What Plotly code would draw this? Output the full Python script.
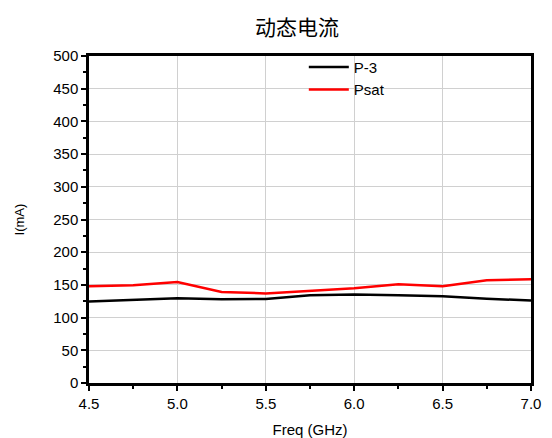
import plotly.graph_objects as go

freq = [4.5, 4.75, 5.0, 5.25, 5.5, 5.75, 6.0, 6.25, 6.5, 6.75, 7.0]
p3 = [124.5, 127, 129.5, 128, 128.5, 134, 135.5, 134, 132.5, 129, 126]
psat = [148, 149.5, 154.5, 139, 137, 141, 145, 151, 148, 157, 158.5]

FONT = "Liberation Sans, Arial, sans-serif"

fig = go.Figure()
fig.add_trace(go.Scatter(x=freq, y=p3, mode="lines", name="P-3",
                         line=dict(color="black", width=2.5)))
fig.add_trace(go.Scatter(x=freq, y=psat, mode="lines", name="Psat",
                         line=dict(color="#ff0000", width=2.5)))

axis_common = dict(
    showline=True, linecolor="black", linewidth=2.5, mirror=True,
    ticks="outside", ticklen=5, tickwidth=2, tickcolor="black",
    showgrid=True, gridcolor="#d0d0d0", gridwidth=1, zeroline=False,
    automargin=False,
    tickfont=dict(family=FONT, size=15, color="black"),
)

fig.update_xaxes(range=[4.5, 7.0], dtick=0.5, tick0=4.5, tickformat=".1f",
                 minor=dict(dtick=0.25, ticks="outside", ticklen=3, tickwidth=2, tickcolor="black", showgrid=False),
                 title=dict(text="Freq (GHz)", font=dict(family=FONT, size=15, color="black"), standoff=14),
                 **axis_common)
fig.update_yaxes(range=[0, 500], dtick=50,
                 minor=dict(dtick=25, ticks="outside", ticklen=3, tickwidth=2, tickcolor="black", showgrid=False),
                 title=dict(text="I(mA)", font=dict(family=FONT, size=13, color="black"), standoff=26),
                 **axis_common)

fig.add_annotation(text="动态电流", xref="paper", yref="paper", x=0.47, y=1.0,
                   xanchor="center", yanchor="bottom", yshift=13, showarrow=False,
                   font=dict(family="Noto Sans CJK SC", size=21, color="black"))

fig.update_layout(
    width=544, height=430,
    margin=dict(l=81, r=21, t=48, b=55, autoexpand=False),
    paper_bgcolor="white", plot_bgcolor="white",
    legend=dict(x=0.486, y=1.016, xanchor="left", yanchor="top",
                bgcolor="rgba(0,0,0,0)", borderwidth=0,
                font=dict(family=FONT, size=15, color="black"),
                itemwidth=40, tracegroupgap=0),
    showlegend=True,
)

fig.write_html("out.html")
